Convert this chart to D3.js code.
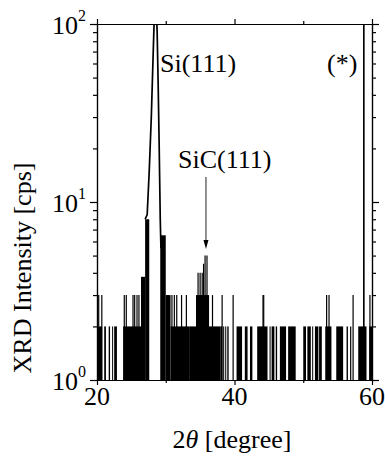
<!DOCTYPE html>
<html><head><meta charset="utf-8">
<script src="https://cdn.jsdelivr.net/npm/d3@7"></script>
<style>
html,body{margin:0;padding:0;background:#fff;}
svg text{font-family:"Liberation Serif","Times New Roman",serif;fill:#000;}
</style></head>
<body>
<svg id="c" width="385" height="456"></svg>
<script>
// ---- data ----
// dense noise regions: [start 2θ, end 2θ, count]
const noiseStart = [20.0, 21.05, 21.7, 22.2, 22.5, 23.8, 26.4, 27.0, 29.2, 30.0, 30.7, 33.4, 34.4, 38.0, 38.35, 38.65, 38.95, 40.3, 41.5, 42.25, 43.3, 45.1, 45.4, 46.0, 46.6, 47.8, 50.0, 50.6, 51.3, 51.7, 52.3, 53.2, 54.8, 56.3, 58.0, 59.6];
const noiseEnd   = [20.75, 21.3, 21.9, 22.3, 22.9, 26.4, 27.0, 27.6, 30.0, 30.7, 33.4, 38.0, 36.3, 38.2, 38.5, 38.8, 39.15, 41.1, 41.9, 42.6, 44.8, 45.25, 45.8, 46.2, 47.5, 48.9, 50.4, 51.1, 51.4, 52.2, 52.7, 54.1, 55.8, 56.5, 59.2, 60.0];
const noiseCount = [2, 2, 2, 2, 2, 2, 3.8, 8, 6.5, 3, 2, 2, 3, 2, 2, 2, 2, 2, 2, 2, 2, 2, 2, 2, 2, 2, 2, 2, 2, 2, 2, 2, 2, 2, 2, 2];
// single spikes: 2θ and count
const spikeDeg   = [20.25, 20.7, 23.97, 24.26, 25.24, 25.48, 25.82, 26.1, 30.3, 30.9, 31.25, 31.6, 32.3, 33.0, 34.7, 35.0, 35.3, 35.5, 35.72, 36.0, 36.8, 38.2, 39.8, 44.15, 44.25, 53.4, 53.75, 56.9, 57.25, 58.78, 58.83, 59.7];
const spikeCount = [3, 3, 3, 3, 3, 3, 3, 3, 3, 3, 3, 3, 3, 3, 4, 4, 4, 4.5, 5, 5, 3, 3, 3, 3, 3, 3, 3, 2, 3, 200, 200, 3];
// Si(111) peak profile
const peakDeg   = [27.0, 27.3, 27.6, 27.9, 28.1, 28.3, 28.45, 28.6, 28.75, 28.9, 29.05, 29.2, 29.3];
const peakCount = [8, 8.5, 15, 30, 55, 100, 160, 130, 90, 45, 20, 8, 5.5];
// axes
const xMajor = [20, 40, 60];
const xMinor = [30, 50];
const yMajor = [1, 10, 100];
const yMinor = [2,3,4,5,6,7,8,9,20,30,40,50,60,70,80,90];
const yExp = ["0", "1", "2"];

// ---- layout ----
const L = 97, R = 372, T = 24, B = 380;
const svg = d3.select("#c");
const x = d3.scaleLinear().domain([20, 60]).range([L, R]);
const y = d3.scaleLog().domain([1, 100]).range([B, T]);

svg.append("defs").append("clipPath").attr("id","clip")
  .append("rect").attr("x", L).attr("y", T).attr("width", R-L).attr("height", B-T);
const g = svg.append("g").attr("clip-path","url(#clip)");

const blocks = noiseStart.map((s,i)=>({s, e: noiseEnd[i], c: noiseCount[i]}));
g.selectAll("rect.n").data(blocks).join("rect")
  .attr("x", d=>x(d.s)).attr("width", d=>Math.max(1, x(d.e)-x(d.s)))
  .attr("y", d=>y(d.c)).attr("height", d=>B - y(d.c)).attr("fill","#000");

const spikes = spikeDeg.map((d,i)=>({d, c: spikeCount[i]}));
g.selectAll("line.s").data(spikes).join("line")
  .attr("x1", d=>x(d.d)).attr("x2", d=>x(d.d))
  .attr("y1", B).attr("y2", d=>y(d.c)).attr("stroke","#000").attr("stroke-width",1.2);

const peak = peakDeg.map((d,i)=>[d, peakCount[i]]);
g.append("path").datum(peak)
  .attr("d", d3.line().x(d=>x(d[0])).y(d=>y(d[1])))
  .attr("fill","none").attr("stroke","#000").attr("stroke-width",1.7);

// ---- axes ----
function noLab(ax){ return ax.tickFormat(""); }
const ax = svg.append("g");
ax.append("g").attr("transform",`translate(0,${B})`).call(noLab(d3.axisBottom(x).tickValues(xMajor).tickSize(5).tickSizeOuter(0)));
ax.append("g").attr("transform",`translate(0,${B})`).call(noLab(d3.axisBottom(x).tickValues(xMinor).tickSize(3).tickSizeOuter(0)));
ax.append("g").attr("transform",`translate(0,${T})`).call(noLab(d3.axisTop(x).tickValues(xMajor).tickSize(5).tickSizeOuter(0)));
ax.append("g").attr("transform",`translate(0,${T})`).call(noLab(d3.axisTop(x).tickValues(xMinor).tickSize(3).tickSizeOuter(0)));
ax.append("g").attr("transform",`translate(${L},0)`).call(noLab(d3.axisLeft(y).tickValues(yMajor).tickSize(7).tickSizeOuter(0)));
ax.append("g").attr("transform",`translate(${L},0)`).call(noLab(d3.axisLeft(y).tickValues(yMinor).tickSize(4).tickSizeOuter(0)));
ax.append("g").attr("transform",`translate(${R},0)`).call(noLab(d3.axisRight(y).tickValues(yMajor).tickSize(7).tickSizeOuter(0)));
ax.append("g").attr("transform",`translate(${R},0)`).call(noLab(d3.axisRight(y).tickValues(yMinor).tickSize(4).tickSizeOuter(0)));
ax.selectAll("path.domain").attr("stroke","#000").attr("stroke-width",1.2);
ax.selectAll(".tick line").attr("stroke","#000").attr("stroke-width",1.2);

// tick labels
svg.selectAll("text.xl").data(xMajor).join("text")
  .attr("x", d=>x(d)).attr("y", 405).attr("text-anchor","middle")
  .attr("font-size", 26).text(d=>d);
const yl = svg.selectAll("text.yl").data(yMajor).join("text")
  .attr("x", L-11).attr("y", d=>y(d)+10).attr("text-anchor","end").attr("font-size", 26);
yl.append("tspan").text("10");
yl.append("tspan").attr("font-size",16).attr("dy",-13).text((d,i)=>yExp[i]);

// axis titles
const xt = svg.append("text").attr("x", 232).attr("y", 448).attr("text-anchor","middle").attr("font-size",26);
xt.append("tspan").text("2");
xt.append("tspan").attr("font-style","italic").text("θ");
xt.append("tspan").text(" [degree]");
svg.append("text").attr("transform","translate(31,268) rotate(-90)")
  .attr("text-anchor","middle").attr("font-size",26).text("XRD Intensity [cps]");

// annotations
svg.append("text").attr("x",160).attr("y",72).attr("font-size",26).text("Si(111)");
svg.append("text").attr("x",327).attr("y",72).attr("font-size",26).text("(*)");
svg.append("text").attr("x",178).attr("y",168).attr("font-size",26).text("SiC(111)");
const ax0 = x(35.85);
svg.append("line").attr("x1",ax0).attr("x2",ax0).attr("y1",177).attr("y2",242)
  .attr("stroke","#222").attr("stroke-width",1);
svg.append("path").attr("d",`M${ax0-2.5},240 L${ax0+2.5},240 L${ax0},249 Z`).attr("fill","#000");
</script>
</body></html>
